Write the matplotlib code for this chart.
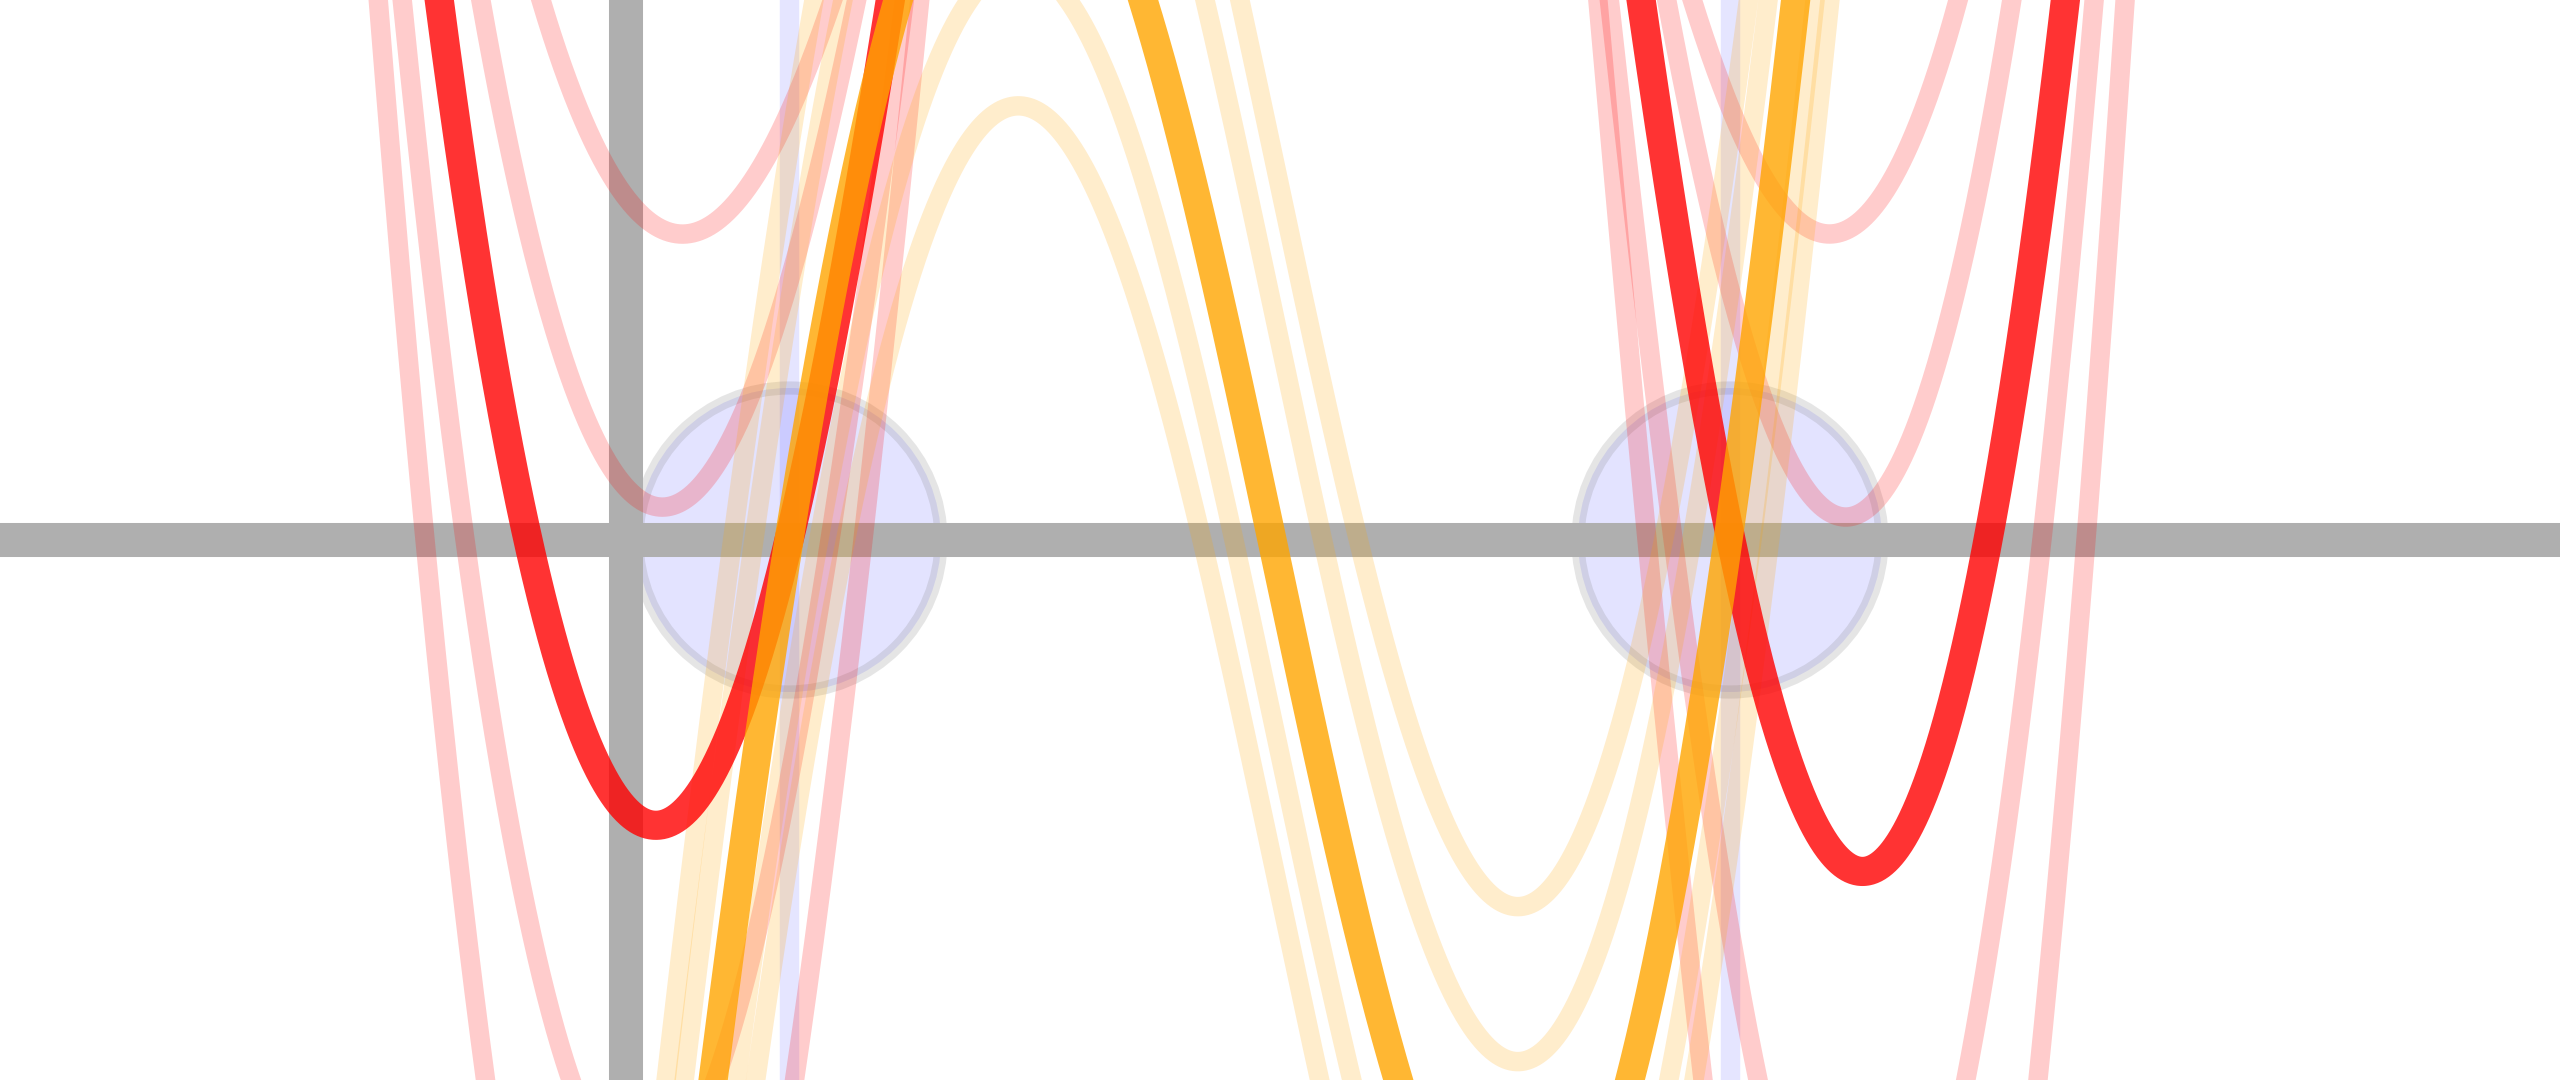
import numpy as np
import matplotlib
matplotlib.use("Agg")
import matplotlib.pyplot as plt
from matplotlib.patches import Circle

# data units: 1 unit = 100 px, origin where the grey axes cross
x_min, x_max = -6.26, 19.34
y_min, y_max = -5.40, 5.40

# red W-shaped curves: each one is scale * U_left * U_right,
# U = (x - centre)^2 - spread  (spread < 0 when that U has no roots)
# index 0 is the thick curve, the rest are the faint ones
red_scales = [0.0217, 0.0153, 0.0195, 0.0253, 0.0298]
red_left_centres = [0.325, 0.52, 0.36, 0.215, 0.18]
red_left_spreads = [1.703, -2.65, -0.221, 3.33, 4.796]
red_right_centres = [12.335, 12.08, 12.2, 12.315, 12.405]
red_right_spreads = [1.651, -2.19, -0.127, 3.40, 4.818]

# orange S-shaped curve and its faint copies shifted up/down
orange_roots = [1.63, 6.46, 11.02]
orange_scale = 0.215
orange_offsets = [-3.18, -1.77, 2.35, 3.9]

# all curves flatten out far from the middle
damp_center = 7.0
damp_width = 7.25

# shared roots, marked with circles and thin bands
marked_roots = [1.63, 11.04]
circle_radius = 1.52


def damping(x):
    return 1 / (1 + ((x - damp_center) / damp_width) ** 2)


def redCurve(x, i):
    left = (x - red_left_centres[i]) ** 2 - red_left_spreads[i]
    right = (x - red_right_centres[i]) ** 2 - red_right_spreads[i]
    return red_scales[i] * left * right * damping(x)


def orangeCurve(x):
    y = orange_scale * np.ones_like(x)
    for r in orange_roots:
        y = y * (x - r)
    return y * damping(x)


def initFigure():
    fig = plt.figure(figsize=(25.6, 10.8), dpi=100)
    ax = fig.add_axes([0, 0, 1, 1])
    fig.patch.set_facecolor('white')
    return ax, fig


if __name__ == "__main__":
    ax, fig = initFigure()
    x = np.linspace(x_min - 0.5, x_max + 0.5, 4000)

    for r in marked_roots:
        ax.add_patch(Circle((r, 0), circle_radius, facecolor=(0, 0, 1, 0.11),
                            edgecolor=(0.5, 0.5, 0.5, 0.2), lw=9.5, zorder=1))
        ax.axvline(r, color='blue', alpha=0.1, lw=14, zorder=1)

    ax.axhline(0, color='#afafaf', lw=24.5, zorder=2)
    ax.axvline(0, color='#afafaf', lw=24.5, zorder=2)

    orange = orangeCurve(x)

    for i in range(1, len(red_scales)):
        ax.plot(x, redCurve(x, i), color='red', alpha=0.2, lw=14, zorder=3)
    for c in orange_offsets:
        ax.plot(x, orange + c, color='orange', alpha=0.2, lw=14, zorder=3)

    ax.plot(x, redCurve(x, 0), color='red', alpha=0.8, lw=21, zorder=4)
    ax.plot(x, orange, color='orange', alpha=0.8, lw=21, zorder=5)

    ax.set_xlim(x_min, x_max)
    ax.set_ylim(y_min, y_max)
    ax.axis('off')
    fig.savefig('out.png', dpi=100)
